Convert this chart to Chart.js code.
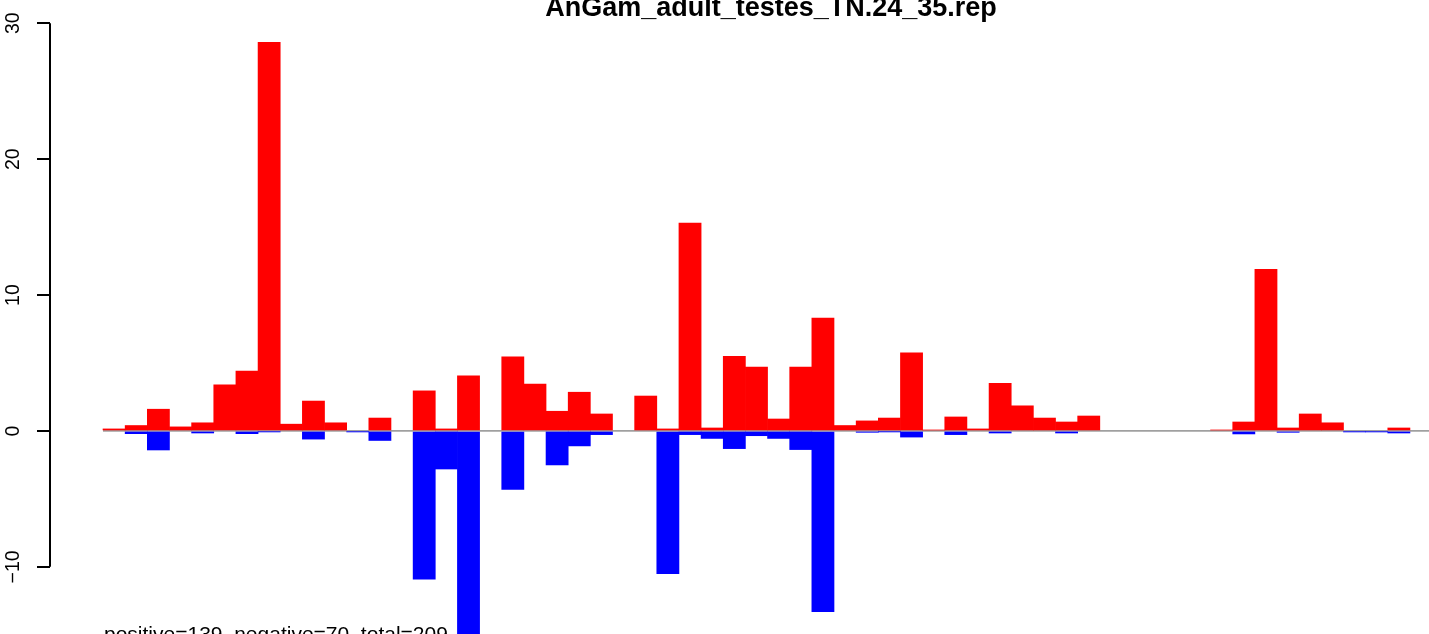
<!DOCTYPE html>
<html>
<head>
<meta charset="utf-8">
<script src="https://cdn.jsdelivr.net/npm/chart.js@4.4.1/dist/chart.umd.min.js"></script>
<style>
body { margin: 0; background: #fff; overflow: hidden; }
#wrap { width: 1429px; height: 634px; }
</style>
</head>
<body>
<div id="wrap"><canvas id="chart"></canvas></div>
<script>
const title = 'AnGam_adult_testes_TN.24_35.rep'
const footnote = 'positive=139, negative=70, total=209'

// one value per position, red goes up, blue goes down
const positive = [0.15, 0.4, 1.6, 0.3, 0.6, 3.4, 4.4, 28.6, 0.5, 2.2,
  0.6, 0, 0.95, 0, 2.95, 0.15, 4.05, 0, 5.45, 3.45,
  1.45, 2.85, 1.25, 0, 2.57, 0.15, 15.3, 0.22, 5.5, 4.7,
  0.88, 4.7, 8.3, 0.4, 0.74, 0.95, 5.75, 0.07, 1.03, 0.15,
  3.5, 1.85, 0.95, 0.66, 1.1, 0, 0, 0, 0, 0,
  0.07, 0.66, 11.9, 0.22, 1.25, 0.6, 0, 0, 0.22]
const negative = [0, -0.2, -1.4, 0, -0.15, 0, -0.2, -0.05, 0, -0.6,
  0, -0.05, -0.7, 0, -10.9, -2.8, -16, 0, -4.3, 0,
  -2.5, -1.1, -0.27, 0, 0, -10.5, -0.27, -0.55, -1.3, -0.35,
  -0.55, -1.37, -13.3, 0, -0.1, -0.05, -0.45, 0, -0.27, 0,
  -0.15, 0, 0, -0.15, 0, 0, 0, 0, 0, 0,
  0, -0.22, 0, -0.1, 0, 0, -0.05, -0.05, -0.15]
const yTicks = [-10, 0, 10, 20, 30]

const xMin = -2.393
const xMax = 59.86
const xs = positive.map((v, i) => i + 0.5)
const font = '"Liberation Sans", Arial, Helvetica, sans-serif'

// zero means no bar at all
function toPoints(values) {
  return xs.map((x, i) => ({x: x, y: values[i] === 0 ? null : values[i]}))
}

// R style axis line (only between first and last tick) plus title and note
const rExtras = {
  id: 'rExtras',
  beforeDatasetsDraw(chart) {
    const {ctx, chartArea, scales} = chart
    ctx.save()
    ctx.strokeStyle = '#000'
    ctx.lineWidth = 2
    ctx.beginPath()
    ctx.moveTo(chartArea.left, scales.y.getPixelForValue(Math.max(...yTicks)))
    ctx.lineTo(chartArea.left, scales.y.getPixelForValue(Math.min(...yTicks)))
    ctx.stroke()
    ctx.restore()
  },
  afterDraw(chart) {
    const {ctx, scales} = chart
    ctx.save()
    ctx.fillStyle = '#000'
    ctx.font = 'bold 27px ' + font
    ctx.textAlign = 'center'
    ctx.textBaseline = 'alphabetic'
    ctx.fillText(title, 771, 15.5)
    ctx.font = '21px ' + font
    ctx.textAlign = 'left'
    ctx.fillText(footnote, scales.x.getPixelForValue(0) + 1, scales.y.getPixelForValue(-15.45))
    ctx.restore()
  }
}

new Chart(document.getElementById('chart'), {
  type: 'bar',
  data: {
    datasets: [
      {
        type: 'line',
        data: [{x: 0, y: 0}, {x: xMax, y: 0}],
        borderColor: '#a0a0a0',
        borderWidth: 1.8,
        pointRadius: 0,
        order: 3
      },
      {
        label: 'positive',
        data: toPoints(positive),
        backgroundColor: '#ff0000',
        grouped: false,
        barPercentage: 1,
        categoryPercentage: 1,
        order: 2
      },
      {
        label: 'negative',
        data: toPoints(negative),
        backgroundColor: '#0000ff',
        grouped: false,
        barPercentage: 1,
        categoryPercentage: 1,
        order: 1
      }
    ]
  },
  options: {
    responsive: true,
    maintainAspectRatio: false,
    animation: false,
    devicePixelRatio: 1,
    layout: { padding: 0 },
    plugins: {
      legend: { display: false },
      tooltip: { enabled: false }
    },
    scales: {
      x: {
        type: 'linear',
        display: false,
        offset: false,
        min: xMin,
        max: xMax
      },
      y: {
        min: -14.94,
        max: 31.71,
        afterBuildTicks: (scale) => { scale.ticks = yTicks.map(v => ({value: v})) },
        afterFit: (scale) => {
          scale.width = 50
          scale.paddingTop = 0
          scale.paddingBottom = 0
        },
        border: { display: false },
        grid: {
          drawOnChartArea: false,
          drawTicks: true,
          tickLength: 13,
          color: '#000',
          lineWidth: 2
        },
        ticks: {
          minRotation: 90,
          maxRotation: 90,
          crossAlign: 'center',
          padding: 6.8,
          color: '#000',
          font: { family: font, size: 19.5 },
          callback: (v) => v < 0 ? '\u2212' + Math.abs(v) : String(v)
        }
      }
    }
  },
  plugins: [rExtras]
})
</script>
</body>
</html>
